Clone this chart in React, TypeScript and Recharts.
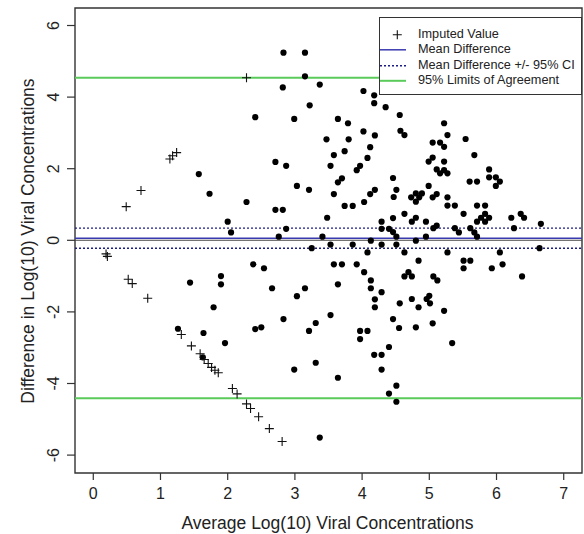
import React from 'react';
import { ScatterChart, Scatter, XAxis, YAxis, ReferenceLine, ReferenceArea, Legend } from 'recharts';

const FONT = '"Liberation Sans", Arial, sans-serif';

const imputedPoints: [number, number][] = [
  [0.19, -0.38], [0.21, -0.45], [0.49, 0.94], [0.52, -1.09], [0.58, -1.21], [0.71, 1.39],
  [0.81, -1.62], [1.14, 2.27], [1.18, 2.36], [1.24, 2.45], [1.31, -2.63], [1.46, -2.95],
  [1.59, -3.17], [1.65, -3.33], [1.71, -3.44], [1.76, -3.55], [1.81, -3.63], [1.86, -3.70],
  [2.07, -4.14], [2.14, -4.29], [2.28, -4.57], [2.34, -4.70], [2.46, -4.93], [2.62, -5.26],
  [2.81, -5.62], [2.28, 4.54],
];

const upperPoints: [number, number][] = [
  [2.83, 5.24], [3.15, 5.24], [3.15, 4.58], [2.82, 4.27], [3.37, 4.35], [3.22, 3.77], [2.41, 3.44],
  [2.99, 3.39], [3.64, 3.39], [3.79, 3.27], [4.02, 4.17], [4.18, 4.05], [4.18, 3.83], [4.35, 3.72],
  [4.02, 3.04], [4.19, 2.93], [3.47, 2.82], [3.80, 2.82], [4.12, 2.60], [3.74, 2.49], [3.58, 2.38],
  [4.08, 2.30], [3.53, 2.08], [3.97, 2.08], [3.92, 1.96], [3.70, 1.73], [3.64, 1.62], [3.58, 1.29],
  [3.74, 0.96], [3.86, 0.96], [4.03, 1.07], [4.12, 1.29], [4.19, 1.41], [4.46, 1.74], [4.51, 1.41],
  [4.47, 1.21], [3.48, 0.63], [4.29, 0.52], [4.46, 0.62], [4.29, 0.32], [4.40, 0.32], [4.46, 0.23],
  [4.51, 0.10], [3.41, 0.10], [2.76, 0.10], [2.87, 0.32], [1.57, 1.85], [1.73, 1.30], [2.28, 1.07],
  [2.00, 0.52], [2.05, 0.22], [2.71, 2.19], [2.87, 2.08], [2.71, 0.85], [2.82, 0.85], [3.03, 1.52],
  [3.21, 1.41],
];

const leftLowerPoints: [number, number][] = [
  [1.44, -1.18], [1.90, -1.00], [1.90, -1.23], [1.79, -1.87], [1.26, -2.47], [1.64, -2.59],
  [1.96, -2.87], [1.63, -3.27],
];

const middleLowerPoints: [number, number][] = [
  [2.38, -0.67], [2.54, -0.78], [2.66, -1.34], [3.15, -1.34], [3.03, -1.56], [2.83, -2.20],
  [2.41, -2.48], [2.50, -2.43], [3.31, -2.31], [3.21, -2.53], [3.31, -3.42], [3.53, -2.09],
  [3.58, -0.67], [3.70, -0.67], [3.92, -0.67], [3.64, -1.23], [4.03, -0.89], [4.13, -1.12],
  [4.13, -1.34], [4.29, -1.45], [4.19, -1.65], [4.19, -1.87], [4.08, -0.34], [4.46, -2.20],
  [4.55, -2.45], [3.97, -2.53], [4.08, -2.53], [3.97, -2.76], [4.40, -2.98], [4.18, -3.20],
  [4.29, -3.20], [4.29, -3.61], [2.99, -3.61], [3.64, -3.84], [4.51, -4.06], [4.40, -4.28],
  [4.51, -4.51], [3.37, -5.51], [3.25, -0.22], [3.53, -0.12], [3.86, -0.12], [4.29, -0.12],
  [4.51, -0.12], [4.13, -0.01],
];

const rightPoints: [number, number][] = [
  [4.56, 3.50], [5.22, 3.27], [4.57, 3.06], [4.63, 2.94], [5.27, 2.94], [5.05, 2.73], [5.16, 2.73],
  [5.22, 2.61], [5.54, 2.83], [5.67, 2.38], [5.05, 2.31], [4.99, 2.20], [5.22, 2.20], [5.11, 1.98],
  [5.22, 1.96], [5.16, 1.87], [5.27, 1.87], [5.89, 1.98], [5.89, 1.76], [5.99, 1.76], [6.05, 1.64],
  [5.99, 1.52], [5.60, 1.64], [5.71, 1.64], [4.99, 1.52], [4.73, 1.20], [4.80, 1.31], [4.85, 1.20],
  [4.89, 1.31], [5.05, 1.20], [5.11, 1.29], [5.27, 1.20], [4.80, 1.08], [5.27, 0.97], [5.38, 0.97],
  [5.71, 0.97], [5.83, 0.97], [4.63, 0.74], [4.80, 0.63], [4.74, 0.52], [4.95, 0.52], [5.51, 0.74],
  [5.83, 0.74], [5.77, 0.63], [5.89, 0.63], [5.71, 0.52], [5.83, 0.52], [6.22, 0.63], [6.36, 0.74],
  [6.41, 0.63], [6.66, 0.46], [5.06, 0.34], [5.11, 0.41], [5.38, 0.34], [5.44, 0.22], [5.61, 0.34],
  [5.67, 0.22], [5.71, 0.10], [6.26, 0.34], [4.95, 0.10], [4.80, -0.01], [4.63, -0.34], [5.27, -0.34],
  [6.05, -0.34], [6.64, -0.22], [4.84, -0.57], [5.51, -0.57], [5.61, -0.57], [5.51, -0.78],
  [5.93, -0.78], [6.09, -0.67], [4.63, -1.01], [4.69, -0.89], [4.74, -1.01], [5.06, -1.01],
  [5.12, -1.12], [6.38, -1.01], [4.56, -1.76], [4.74, -1.64], [4.84, -1.87], [4.96, -1.64],
  [5.00, -1.55], [5.01, -1.76], [5.22, -1.97], [5.05, -2.32], [4.80, -2.43], [5.34, -2.87],
];

const xTicks = [0, 1, 2, 3, 4, 5, 6, 7];
const yTicks = [-6, -4, -2, 0, 2, 4, 6];
const xDomain: [number, number] = [-0.272, 7.272];
const yDomain: [number, number] = [-6.5, 6.489];

const meanDifference = 0.06;
const ciUpper = 0.34;
const ciLower = -0.22;
const loaUpper = 4.54;
const loaLower = -4.41;

const legendItems = [
  { label: 'Imputed Value', kind: 'plus' },
  { label: 'Mean Difference', kind: 'solid' },
  { label: 'Mean Difference +/- 95% CI', kind: 'dotted' },
  { label: '95% Limits of Agreement', kind: 'green' },
];

const xLabel = 'Average Log(10) Viral Concentrations';
const yLabel = 'Difference in Log(10) Viral Concentrations';

const COLOR_BLUE = '#3a3ab0';
const COLOR_NAVY = '#1c1c86';
const COLOR_GREEN = '#5acb5a';
const COLOR_DARK = '#222';

const toXY = (arr: [number, number][]) => arr.map(([x, y]) => ({ x, y }));
const measuredData = toXY([...upperPoints, ...leftLowerPoints, ...middleLowerPoints, ...rightPoints]);
const imputedData = toXY(imputedPoints);

const Dot = (p: any) => <circle cx={p.cx} cy={p.cy} r={3.1} fill="#000" />;
const Plus = (p: any) => (
  <path
    d={`M${p.cx - 4.5},${p.cy}h9M${p.cx},${p.cy - 4.5}v9`}
    stroke="#111"
    strokeWidth={1.1}
    fill="none"
  />
);

const YTick = (props: any) => {
  const { x, y, payload } = props;
  return (
    <g transform={`translate(${x - 12},${y}) rotate(-90)`}>
      <text textAnchor="middle" dy="0.36em" fontSize={16} fill={COLOR_DARK} fontFamily={FONT}>
        {String(payload.value)}
      </text>
    </g>
  );
};

const LegendBox = () => (
  <div
    style={{
      boxSizing: 'border-box',
      width: 203,
      height: 78,
      border: '1.3px solid #333',
      background: '#fff',
      paddingTop: 8.5,
      fontFamily: FONT,
      fontSize: 12.7,
      color: COLOR_DARK,
    }}
  >
    {legendItems.map((it) => (
      <div key={it.label} style={{ display: 'flex', alignItems: 'center', height: 15.6 }}>
        <svg width={38} height={15.6} style={{ flex: 'none' }}>
          {it.kind === 'plus' && (
            <path d="M12.8,7.8h9M17.3,3.3v9" stroke="#111" strokeWidth={1.1} fill="none" />
          )}
          {it.kind === 'solid' && <line x1={0} x2={26} y1={7.8} y2={7.8} stroke={COLOR_BLUE} strokeWidth={1.5} />}
          {it.kind === 'dotted' && (
            <line x1={0} x2={26} y1={7.8} y2={7.8} stroke={COLOR_NAVY} strokeWidth={1.4} strokeDasharray="2 2" />
          )}
          {it.kind === 'green' && <line x1={0} x2={26} y1={7.8} y2={7.8} stroke={COLOR_GREEN} strokeWidth={2} />}
        </svg>
        <span style={{ whiteSpace: 'nowrap', lineHeight: '15.6px' }}>{it.label}</span>
      </div>
    ))}
  </div>
);

export default function App() {
  return (
    <div style={{ position: 'relative', width: 584, height: 534, background: '#fff', fontFamily: FONT }}>
      <style>{'body{margin:0;background:#fff}'}</style>
      <ScatterChart width={584} height={534} margin={{ top: 8, right: 2, left: 0, bottom: 0 }}>
        <XAxis
          type="number"
          dataKey="x"
          domain={xDomain}
          ticks={xTicks}
          allowDataOverflow
          height={61}
          tickSize={7}
          tickMargin={8}
          axisLine={false}
          tickLine={{ stroke: '#333', strokeWidth: 1.2 }}
          tick={{ fontSize: 16, fill: COLOR_DARK, fontFamily: FONT }}
          interval={0}
        />
        <YAxis
          type="number"
          dataKey="y"
          domain={yDomain}
          ticks={yTicks}
          allowDataOverflow
          width={75}
          tickSize={8}
          axisLine={false}
          tickLine={{ stroke: '#333', strokeWidth: 1.2 }}
          tick={<YTick />}
          interval={0}
        />
        <Scatter name="Measured" data={measuredData} shape={Dot} isAnimationActive={false} />
        <Scatter name="Imputed Value" data={imputedData} shape={Plus} isAnimationActive={false} />
        <ReferenceLine y={0} stroke="#444" strokeWidth={1.1} />
        <ReferenceLine y={meanDifference} stroke={COLOR_BLUE} strokeWidth={1.5} />
        <ReferenceLine y={ciUpper} stroke={COLOR_NAVY} strokeWidth={1.4} strokeDasharray="2 2" />
        <ReferenceLine y={ciLower} stroke={COLOR_NAVY} strokeWidth={1.4} strokeDasharray="2 2" />
        <ReferenceLine y={loaUpper} stroke={COLOR_GREEN} strokeWidth={2} />
        <ReferenceLine y={loaLower} stroke={COLOR_GREEN} strokeWidth={2} />
        <ReferenceArea
          x1={xDomain[0]}
          x2={xDomain[1]}
          y1={yDomain[0]}
          y2={yDomain[1]}
          fill="none"
          fillOpacity={0}
          stroke="#333"
          strokeWidth={1.4}
        />
        <Legend
          layout="horizontal"
          verticalAlign="middle"
          align="center"
          content={() => <LegendBox />}
          wrapperStyle={{ left: 379, top: 17, width: 203, height: 78 }}
        />
      </ScatterChart>
      <div
        style={{
          position: 'absolute',
          left: 127.5,
          top: 512.5,
          width: 400,
          height: 20,
          lineHeight: '20px',
          textAlign: 'center',
          fontSize: 17.5,
          color: COLOR_DARK,
          whiteSpace: 'nowrap',
        }}
      >
        {xLabel}
      </div>
      <div
        style={{
          position: 'absolute',
          left: 28 - 220,
          top: 240.5 - 10,
          width: 440,
          height: 20,
          lineHeight: '20px',
          textAlign: 'center',
          fontSize: 17.5,
          color: COLOR_DARK,
          whiteSpace: 'nowrap',
          transform: 'rotate(-90deg)',
        }}
      >
        {yLabel}
      </div>
    </div>
  );
}
